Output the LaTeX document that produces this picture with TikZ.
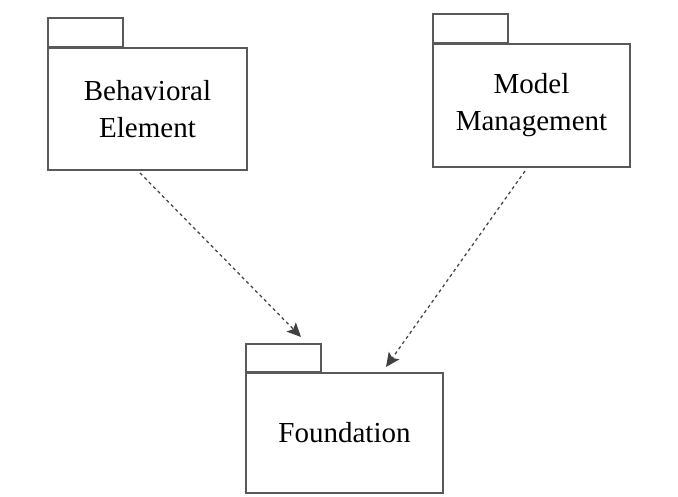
\documentclass[tikz,border=0pt]{standalone}
\usepackage{fontspec}
\setmainfont{Liberation Serif}
\usetikzlibrary{arrows.meta}

\begin{document}
\begin{tikzpicture}
    % Colori delle linee
    \def\lineCol{black!65}
    \def\arrowCol{black!75}

    % Stili dei package
    \tikzset{
        pkgbody/.style={draw=\lineCol, line width=0.9pt, rectangle, align=center,
            inner sep=0pt, font=\fontsize{16.5}{21}\selectfont},
        pkgtab/.style={draw=\lineCol, line width=0.9pt, rectangle, inner sep=0pt,
            minimum width=1.5cm, minimum height=0.57cm, anchor=south west},
        dep/.style={draw=\arrowCol, line width=0.7pt, dash pattern=on 1.8pt off 1.8pt,
            -{Stealth[length=2.8mm,width=2.6mm,inset=0.6mm]}}
    }

    \useasboundingbox (0,0) rectangle (13.56,9.94);

    % Package superiori
    \node[pkgbody, minimum width=3.98cm, minimum height=2.44cm] (be) at (2.95,7.76)
        {Behavioral\\Element};
    \node[pkgtab] (betab) at (be.north west) {};

    \node[pkgbody, minimum width=3.94cm, minimum height=2.46cm] (mm) at (10.63,7.83)
        {Model\\Management};
    \node[pkgtab] (mmtab) at (mm.north west) {};

    % Package inferiore
    \node[pkgbody, minimum width=3.94cm, minimum height=2.4cm] (fd) at (6.89,1.28)
        {Foundation};
    \node[pkgtab, minimum height=0.55cm] (fdtab) at (fd.north west) {};

    % Dipendenze
    \coordinate (beout) at (2.8,6.48);
    \coordinate (betip) at (6.02,3.2);
    \coordinate (mmout) at (10.5,6.52);
    \coordinate (mmtip) at (7.72,2.6);

    \draw[dep] (beout) -- (betip);
    \draw[dep] (mmout) -- (mmtip);

\end{tikzpicture}
\end{document}
